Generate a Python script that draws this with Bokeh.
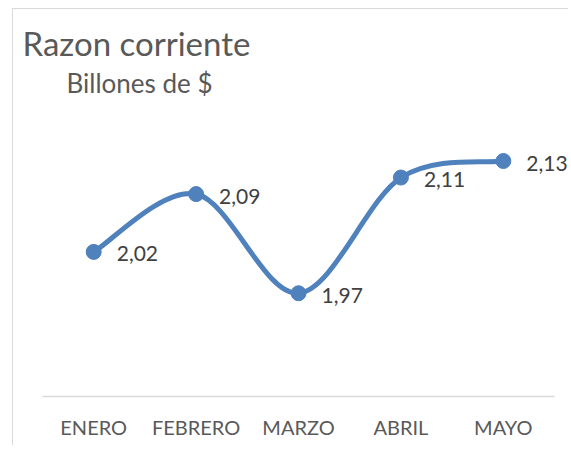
from bokeh.plotting import figure
from bokeh.models import Range1d, FixedTicker, Title, LabelSet, ColumnDataSource
from bokeh.core.properties import value
from bokeh.embed import file_html
from bokeh.resources import INLINE

categories = ["ENERO", "FEBRERO", "MARZO", "ABRIL", "MAYO"]
values = [2.02, 2.09, 1.97, 2.11, 2.13]
title_text = "Razon corriente"
subtitle_text = "Billones de $"

FONT = "Lato"
BLUE = "#4F81BD"
GRAY = "#595959"

xs = list(range(1, len(categories) + 1))
n = len(categories)

W, H = 556, 437
p = figure(width=W, height=H, output_backend="svg", toolbar_location=None, title=None,
           x_range=Range1d(0.5, n + 0.646), y_range=Range1d(1.845, 2.15),
           y_axis_location=None, min_border_left=29, min_border_right=0,
           min_border_top=135, min_border_bottom=50)
p.styles = {"border-left": "1px solid #d9d9d9", "border-top": "1px solid #d9d9d9",
            "margin-left": "12px", "margin-top": "8px"}
p.outline_line_color = None
p.grid.visible = False
p.background_fill_color = "white"

ax = p.xaxis[0]
ax.ticker = FixedTicker(ticks=xs)
ax.bounds = (0.5, n + 0.5)
ax.major_label_overrides = {x: c for x, c in zip(xs, categories)}
ax.major_tick_line_color = None
ax.minor_tick_line_color = None
ax.axis_line_color = "#d9d9d9"
ax.axis_line_width = 1.5
ax.major_label_text_font = FONT
ax.major_label_text_font_size = "20px"
ax.major_label_text_color = GRAY
ax.major_label_standoff = 12

# smooth curve (Catmull-Rom style Bezier through the data points)
pts = list(zip(xs, values))
x0, y0, x1, y1, cx0, cy0, cx1, cy1 = [], [], [], [], [], [], [], []
for i in range(n - 1):
    pm = pts[max(i - 1, 0)]
    pa = pts[i]
    pb = pts[i + 1]
    pn = pts[min(i + 2, n - 1)]
    x0.append(pa[0]); y0.append(pa[1]); x1.append(pb[0]); y1.append(pb[1])
    cx0.append(pa[0] + (pb[0] - pm[0]) / 6); cy0.append(pa[1] + (pb[1] - pm[1]) / 6)
    cx1.append(pb[0] - (pn[0] - pa[0]) / 6); cy1.append(pb[1] - (pn[1] - pa[1]) / 6)
p.bezier(x0=x0, y0=y0, x1=x1, y1=y1, cx0=cx0, cy0=cy0, cx1=cx1, cy1=cy1,
         line_color=BLUE, line_width=5, line_cap="round")

src = ColumnDataSource(dict(x=xs, y=values,
                            lab=[f"{v:.2f}".replace(".", ",") for v in values]))
p.scatter("x", "y", source=src, size=15, fill_color=BLUE, line_color=BLUE)
p.add_layout(LabelSet(x="x", y="y", text="lab", source=src, x_offset=23, y_offset=-2,
                      text_font=value(FONT), text_font_size="21px", text_color="#404040",
                      text_baseline="middle", text_align="left"))

p.add_layout(Title(text=subtitle_text, text_font=FONT, text_font_size="26px",
                   text_color=GRAY, text_font_style="normal", align="left",
                   offset=24, standoff=92), "above")
p.add_layout(Title(text=title_text, text_font=FONT, text_font_size="33px",
                   text_color=GRAY, text_font_style="normal", align="left",
                   offset=-20, standoff=-89), "above")

open("out.html", "w").write(file_html(p, INLINE))
